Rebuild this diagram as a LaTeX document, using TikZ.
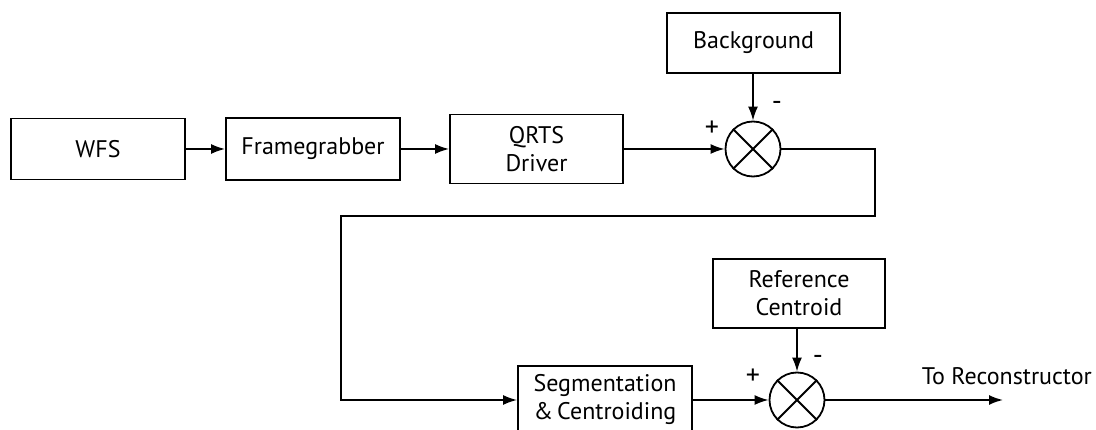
\documentclass[tikz,border=0pt]{standalone}
\usepackage{fontspec}
\setmainfont{PT Sans}
\usetikzlibrary{arrows.meta}
\begin{document}
\begin{tikzpicture}[x=1pt,y=-1pt,
  line width=1.8pt,
  font=\fontsize{24}{28}\selectfont,
  block/.style={draw, rectangle, minimum width=174pt, align=center, inner sep=2pt},
  summer/.style={draw, circle, minimum size=55pt, inner sep=0pt},
  flow/.style={-{Latex[length=14pt,width=10pt]}},
  sign/.style={font=\fontsize{28}{32}\selectfont, inner sep=0pt}]
\useasboundingbox (0,0) rectangle (1096,430);

% upper chain
\node[block, minimum height=61pt] (wfs) at (98,149) {WFS};
\node[block, minimum height=62pt] (fg) at (313,149) {Framegrabber};
\node[block, minimum height=69pt, minimum width=173pt] (qrts) at (536.5,149) {QRTS\\Driver};
\node[summer] (sum1) at (753,149) {};
\node[block, minimum height=60pt, minimum width=173pt] (bg) at (753.5,43) {Background};
\draw (sum1.north west) -- (sum1.south east) (sum1.north east) -- (sum1.south west);

% lower chain
\node[block, minimum height=68pt] (seg) at (605,400) {Segmentation\\\&\,Centroiding};
\node[summer] (sum2) at (797,400) {};
\node[block, minimum height=69pt, minimum width=172pt] (ref) at (799,293.5) {Reference\\Centroid};
\draw (sum2.north west) -- (sum2.south east) (sum2.north east) -- (sum2.south west);

\coordinate (c1) at (875,216);
\coordinate (c2) at (341,216);
\coordinate (out) at (1003,400);

% connectors
\draw[flow] (wfs.east) -- (fg.west);
\draw[flow] (fg.east) -- (qrts.west);
\draw[flow] (qrts.east) -- (sum1.west);
\draw[flow] (bg.south -| sum1) -- (sum1.north);
\draw[flow] (sum1.east) -| (c1) -- (c2) |- (seg.west);
\draw[flow] (seg.east) -- (sum2.west);
\draw[flow] (ref.south -| sum2) -- (sum2.north);
\draw[flow] (sum2.east) -- (out);

% signs and output label
\node[sign] (p1) at (712,129) {+};
\node[sign] (m1) at (777,106) {-};
\node[sign] (p2) at (753,377) {+};
\node[sign] (m2) at (818,360) {-};
\node[anchor=west, inner sep=0pt] (lbl) at (921,376) {To Reconstructor};
\end{tikzpicture}
\end{document}
